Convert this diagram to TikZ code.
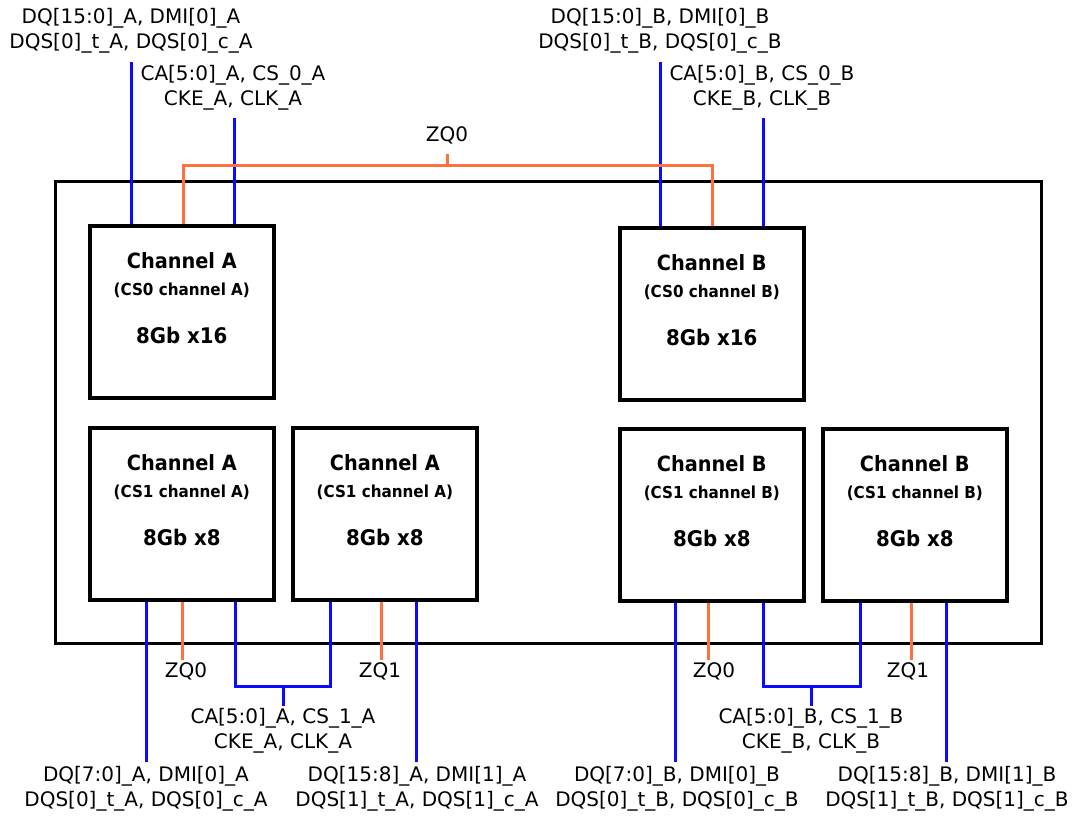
\documentclass[tikz,border=0pt]{standalone}
\usepackage{fontspec}
\setmainfont{DejaVu Sans}
\newfontfamily\chipfont{DejaVu Sans}[FakeStretch=0.92]
\definecolor{zqorange}{RGB}{255,112,64}
\definecolor{sigblue}{RGB}{10,10,255}
\begin{document}
\begin{tikzpicture}[x=1pt,y=-1pt,
  chip/.style={draw=black, line width=3.6pt, minimum width=184pt, minimum height=172pt, inner sep=0pt, anchor=north west},
  outer/.style={draw=black, line width=3.6pt},
  bl/.style={draw=sigblue, line width=3pt},
  og/.style={draw=zqorange, line width=3pt},
  lbl/.style={align=center, inner sep=0pt, font=\fontsize{20}{25.5}\selectfont},
  ttl/.style={inner sep=0pt, font=\chipfont\bfseries\fontsize{21}{24}\selectfont},
  subttl/.style={inner sep=0pt, font=\chipfont\bfseries\fontsize{16.5}{18}\selectfont},
  captxt/.style={inner sep=0pt, font=\chipfont\bfseries\fontsize{21.5}{24}\selectfont}
]
\useasboundingbox (0,0) rectangle (1074,819);
\newcommand\memchip[5]{%
  \node[chip] (#1) at (#2) {};
  \node[ttl] (#1t) at ([yshift=-37pt]#1.north) {#3};
  \node[subttl] (#1s) at ([yshift=-66pt]#1.north) {#4};
  \node[captxt] (#1c) at ([yshift=-111pt]#1.north) {#5};
}
% outer package
\node[outer, minimum width=986pt, minimum height=462pt, inner sep=0pt, anchor=north west] (pkg) at (53.5,179.5) {};
% dies
\memchip{a0}{88,224}{Channel A}{(CS0 channel A)}{8Gb x16}
\memchip{a1}{88,426}{Channel A}{(CS1 channel A)}{8Gb x8}
\memchip{a2}{291,426}{Channel A}{(CS1 channel A)}{8Gb x8}
\memchip{b0}{618,226}{Channel B}{(CS0 channel B)}{8Gb x16}
\memchip{b1}{618,427}{Channel B}{(CS1 channel B)}{8Gb x8}
\memchip{b2}{821,427}{Channel B}{(CS1 channel B)}{8Gb x8}

% top labels
\node[lbl] (ldqA) at (131,31) {DQ[15:0]\_A, DMI[0]\_A\\DQS[0]\_t\_A, DQS[0]\_c\_A};
\node[lbl] (lcaA) at (233,88) {CA[5:0]\_A, CS\_0\_A\\CKE\_A, CLK\_A};
\node[lbl] (ldqB) at (660,31) {DQ[15:0]\_B, DMI[0]\_B\\DQS[0]\_t\_B, DQS[0]\_c\_B};
\node[lbl] (lcaB) at (762,88) {CA[5:0]\_B, CS\_0\_B\\CKE\_B, CLK\_B};
\node[lbl] (lzqT) at (447,135) {ZQ0};

% top connector ends
\coordinate (tdqA) at (131,62);
\coordinate (tcaA) at (234,118);
\coordinate (tdqB) at (660,62);
\coordinate (tcaB) at (763,118);
\coordinate (zqL) at (183,165);
\coordinate (zqR) at (712,165);
\coordinate (zqM) at (447,165);
\coordinate (zqMt) at (447,154);

\draw[bl] (tdqA) -- (tdqA |- a0.north);
\draw[bl] (tcaA) -- (tcaA |- a0.north);
\draw[bl] (tdqB) -- (tdqB |- b0.north);
\draw[bl] (tcaB) -- (tcaB |- b0.north);
\draw[og] (zqL |- a0.north) -- (zqL) -- (zqR) -- (zqR |- b0.north);
\draw[og] (zqM) -- (zqMt);

% bottom connector ends, channel A
\coordinate (bdqA0) at (146,762);
\coordinate (bzqA0) at (182,660);
\coordinate (bcaA1) at (235,686);
\coordinate (bcaA2) at (330,686);
\coordinate (bcaAm) at (283,686);
\coordinate (bcaAt) at (283,706);
\coordinate (bzqA1) at (381,660);
\coordinate (bdqA1) at (416,762);

\draw[bl] (bdqA0 |- a1.south) -- (bdqA0);
\draw[og] (bzqA0 |- a1.south) -- (bzqA0);
\draw[bl] (bcaA1 |- a1.south) -- (bcaA1) -- (bcaA2) -- (bcaA2 |- a2.south);
\draw[bl] (bcaAm) -- (bcaAt);
\draw[og] (bzqA1 |- a2.south) -- (bzqA1);
\draw[bl] (bdqA1 |- a2.south) -- (bdqA1);

% bottom connector ends, channel B
\coordinate (bdqB0) at (675,762);
\coordinate (bzqB0) at (708,660);
\coordinate (bcaB1) at (763,686);
\coordinate (bcaB2) at (860,686);
\coordinate (bcaBm) at (811,686);
\coordinate (bcaBt) at (811,706);
\coordinate (bzqB1) at (911,660);
\coordinate (bdqB1) at (946,762);

\draw[bl] (bdqB0 |- b1.south) -- (bdqB0);
\draw[og] (bzqB0 |- b1.south) -- (bzqB0);
\draw[bl] (bcaB1 |- b1.south) -- (bcaB1) -- (bcaB2) -- (bcaB2 |- b2.south);
\draw[bl] (bcaBm) -- (bcaBt);
\draw[og] (bzqB1 |- b2.south) -- (bzqB1);
\draw[bl] (bdqB1 |- b2.south) -- (bdqB1);

% bottom labels
\node[lbl] (lzqA0) at (186,671) {ZQ0};
\node[lbl] (lzqA1) at (380,671) {ZQ1};
\node[lbl] (lcaA1) at (283,731) {CA[5:0]\_A, CS\_1\_A\\CKE\_A, CLK\_A};
\node[lbl] (ldqA0) at (146,789) {DQ[7:0]\_A, DMI[0]\_A\\DQS[0]\_t\_A, DQS[0]\_c\_A};
\node[lbl] (ldqA1) at (417,789) {DQ[15:8]\_A, DMI[1]\_A\\DQS[1]\_t\_A, DQS[1]\_c\_A};
\node[lbl] (lzqB0) at (714,671) {ZQ0};
\node[lbl] (lzqB1) at (908,671) {ZQ1};
\node[lbl] (lcaB1) at (811,731) {CA[5:0]\_B, CS\_1\_B\\CKE\_B, CLK\_B};
\node[lbl] (ldqB0) at (677,789) {DQ[7:0]\_B, DMI[0]\_B\\DQS[0]\_t\_B, DQS[0]\_c\_B};
\node[lbl] (ldqB1) at (947,789) {DQ[15:8]\_B, DMI[1]\_B\\DQS[1]\_t\_B, DQS[1]\_c\_B};
\end{tikzpicture}
\end{document}
